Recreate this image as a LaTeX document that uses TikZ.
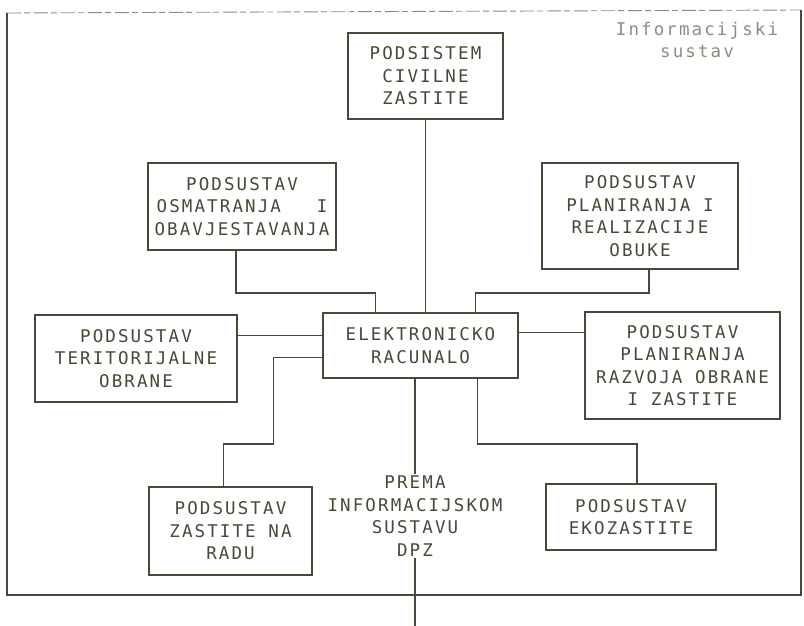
\documentclass[tikz,border=0pt]{standalone}
\usepackage{fontspec}
\newfontfamily\dotfont[LetterSpace=12]{DejaVu Sans Mono}
\usetikzlibrary{calc}
\definecolor{ink}{RGB}{72,72,56}
\definecolor{faint}{RGB}{140,140,125}
\begin{document}
\begin{tikzpicture}[x=1pt,y=-1pt,
  every node/.style={font=\dotfont\fontsize{17.5}{22.5}\selectfont, text=ink},
  sbox/.style={draw=ink, line width=1.2pt, align=center, inner sep=0pt},
  link/.style={draw=ink, line width=1.2pt}]
\useasboundingbox (0,0) rectangle (804,626);
% frame
\coordinate (fTL) at (7,13);
\coordinate (fTR) at (801,10);
\coordinate (fBL) at (7,595);
\coordinate (fBR) at (801,595);
\draw[faint, line width=0.9pt, dash pattern=on 14pt off 3pt on 6pt off 4pt] (fTL) -- (fTR);
\draw[link] (fTL) -- (fBL) -- (fBR) -- (fTR);
\node[text=faint, align=center] (title) at (697,40) {Informacijski\\sustav};
% boxes
\node[sbox, minimum width=155pt, minimum height=86pt] (civ) at (425.5,76) {PODSISTEM\\CIVILNE\\ZASTITE};
\node[sbox, minimum width=188pt, minimum height=87pt] (osm) at (242,206.5) {PODSUSTAV\\OSMATRANJA\phantom{XXX}I\\OBAVJESTAVANJA};
\node[sbox, minimum width=196pt, minimum height=106pt] (obu) at (640,216) {PODSUSTAV\\PLANIRANJA I\\REALIZACIJE\\OBUKE};
\node[sbox, minimum width=202pt, minimum height=87pt] (ter) at (136,358.5) {PODSUSTAV\\TERITORIJALNE\\OBRANE};
\node[sbox, minimum width=195pt, minimum height=65pt] (ele) at (420.5,345.5) {ELEKTRONICKO\\RACUNALO};
\node[sbox, minimum width=195pt, minimum height=107pt] (raz) at (682.5,365.5) {PODSUSTAV\\PLANIRANJA\\RAZVOJA OBRANE\\I ZASTITE};
\node[sbox, minimum width=163pt, minimum height=88pt] (rad) at (230.5,531) {PODSUSTAV\\ZASTITE NA\\RADU};
\node[sbox, minimum width=170pt, minimum height=66pt] (eko) at (631,517) {PODSUSTAV\\EKOZASTITE};
\node[align=center, inner sep=0pt, minimum height=84pt] (prema) at (415,516) {PREMA\\INFORMACIJSKOM\\SUSTAVU\\DPZ};
% lanes and junctions
\coordinate (laneT) at (0,293);
\coordinate (laneB) at (0,444);
\coordinate (eA) at ($(ele.north west)+(53,0)$);
\coordinate (eB) at ($(ele.north west)+(153,0)$);
\coordinate (eC) at ($(ele.north west)+(0,23)$);
\coordinate (eD) at ($(ele.north east)+(0,20)$);
\coordinate (eE) at ($(ele.north west)+(0,45)$);
\coordinate (eF) at ($(ele.south west)+(155,0)$);
\coordinate (kL) at ($(eE)+(-49,0)$);
\coordinate (oS) at ($(osm.south)+(-6,0)$);
\coordinate (bS) at ($(obu.south)+(9,0)$);
\coordinate (rN) at ($(rad.north)+(-7,0)$);
\coordinate (kN) at ($(eko.north)+(6,0)$);
\coordinate (outB) at (415,626);
% connectors
\draw[link] (civ.south) -- (civ.south |- ele.north);
\draw[link] (oS) -- (oS |- laneT) -- (eA |- laneT) -- (eA);
\draw[link] (bS) -- (bS |- laneT) -- (eB |- laneT) -- (eB);
\draw[link] (eC -| ter.east) -- (eC);
\draw[link] (eD) -- (eD -| raz.west);
\draw[link] (eE) -- (kL) -- (kL |- laneB) -- (rN |- laneB) -- (rN);
\draw[link] (eF) -- (eF |- laneB) -- (kN |- laneB) -- (kN);
\draw[link] (prema.north |- ele.south) -- (prema.north);
\draw[link] (prema.south) -- (outB);
\end{tikzpicture}
\end{document}
